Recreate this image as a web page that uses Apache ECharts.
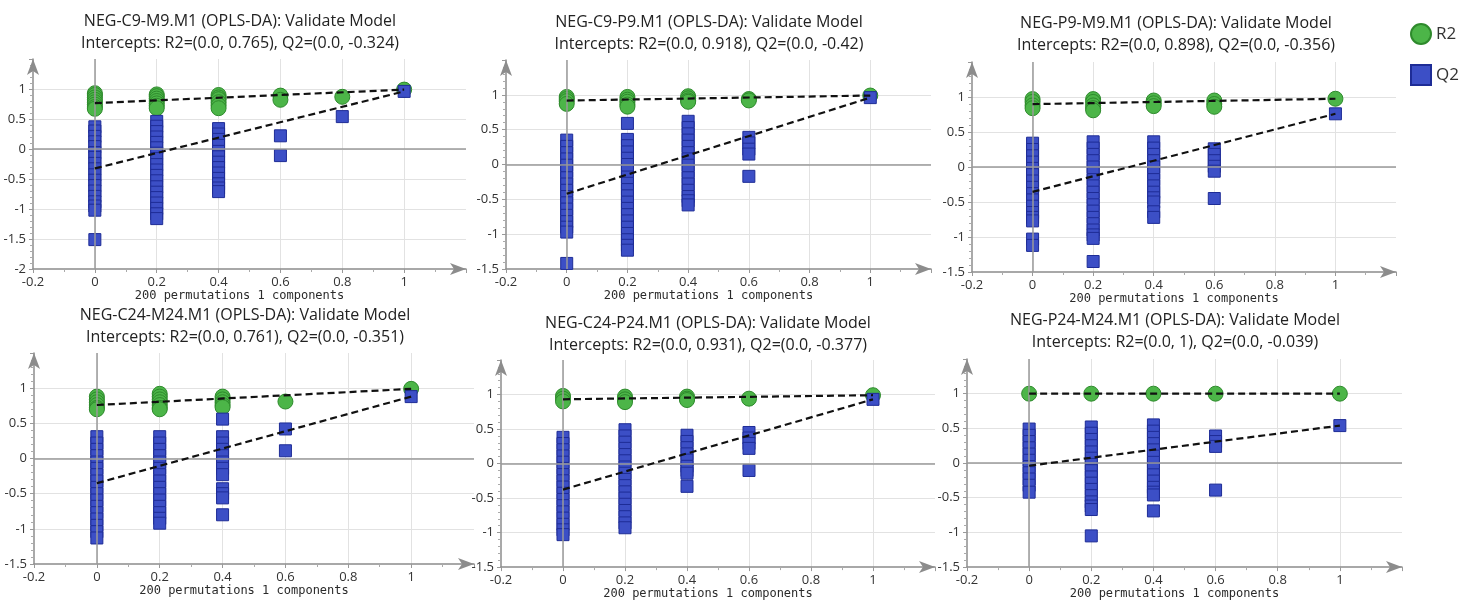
<!DOCTYPE html>
<html>
<head>
<meta charset="utf-8">
<title>OPLS-DA Validate Model</title>
<script src="https://cdn.jsdelivr.net/npm/echarts@6.0.0/dist/echarts.min.js"></script>
<style>
  html, body { margin: 0; padding: 0; background: #fff; }
  #chart { width: 1460px; height: 601px; }
</style>
</head>
<body>
<div id="chart"></div>
<script>
// permutation groups sit at these x values, the last one is the original model
const groupX = [0, 0.2, 0.4, 0.6, 0.8, 1];

const models = ['NEG-C9-M9.M1', 'NEG-C9-P9.M1', 'NEG-P9-M9.M1', 'NEG-C24-M24.M1', 'NEG-C24-P24.M1', 'NEG-P24-M24.M1'];
const r2Intercepts = [0.765, 0.918, 0.898, 0.761, 0.931, 1];
const q2Intercepts = [-0.324, -0.42, -0.356, -0.351, -0.377, -0.039];
const yMins = [-2, -1.5, -1.5, -1.5, -1.5, -1.5];

// values read per group (index follows groupX)
const r2_C9_M9 = [[0.93, 0.9, 0.86, 0.82, 0.78, 0.74, 0.7, 0.67], [0.91, 0.88, 0.84, 0.8, 0.76, 0.72, 0.68], [0.9, 0.86, 0.83, 0.78, 0.73, 0.68], [0.89, 0.82], [0.87], [0.99]];
const q2_C9_M9 = [
  [0.37, 0.3, 0.21, 0.12, 0.04, -0.06, -0.14, -0.24, -0.33, -0.43, -0.52, -0.61, -0.7, -0.79, -0.88, -0.95, -1.02, -1.51],
  [0.46, 0.38, 0.29, 0.2, 0.11, 0.02, -0.07, -0.16, -0.26, -0.35, -0.44, -0.53, -0.63, -0.72, -0.81, -0.9, -0.99, -1.08, -1.16],
  [0.34, 0.25, 0.16, 0.06, -0.04, -0.13, -0.22, -0.31, -0.4, -0.49, -0.58, -0.65, -0.71],
  [0.22, -0.11], [0.54], [0.96]
];

const r2_C9_P9 = [[0.97, 0.94, 0.91, 0.87], [0.97, 0.93, 0.9, 0.86, 0.83], [0.98, 0.95, 0.92, 0.9], [0.94, 0.92], [], [0.99]];
const q2_C9_P9 = [
  [0.35, 0.26, 0.17, 0.08, -0.01, -0.1, -0.19, -0.28, -0.37, -0.46, -0.55, -0.64, -0.73, -0.82, -0.9, -0.97, -1.42],
  [0.59, 0.36, 0.27, 0.18, 0.09, 0.0, -0.09, -0.18, -0.27, -0.36, -0.45, -0.54, -0.63, -0.72, -0.81, -0.9, -0.99, -1.08, -1.16, -1.23],
  [0.62, 0.53, 0.44, 0.35, 0.26, 0.17, 0.08, -0.01, -0.1, -0.19, -0.28, -0.37, -0.46, -0.52, -0.58],
  [0.39, 0.31, 0.22, 0.15, -0.17], [], [0.96]
];

const r2_P9_M9 = [[0.97, 0.93, 0.88, 0.84], [0.97, 0.93, 0.88, 0.84, 0.81], [0.95, 0.91, 0.87], [0.95, 0.9, 0.86], [], [0.975]];
const q2_P9_M9 = [
  [0.34, 0.25, 0.16, 0.07, -0.02, -0.11, -0.2, -0.29, -0.38, -0.47, -0.56, -0.65, -0.72, -0.77, -1.03, -1.12],
  [0.36, 0.27, 0.18, 0.09, 0.0, -0.09, -0.18, -0.27, -0.36, -0.45, -0.54, -0.63, -0.72, -0.81, -0.9, -0.97, -1.02, -1.35],
  [0.36, 0.27, 0.18, 0.09, 0.0, -0.09, -0.18, -0.27, -0.36, -0.44, -0.5, -0.64, -0.72],
  [0.26, 0.18, 0.09, 0.01, -0.06, -0.45], [], [0.76]
];

const r2_C24_M24 = [[0.88, 0.84, 0.8, 0.76, 0.72, 0.7], [0.92, 0.88, 0.84, 0.8, 0.76, 0.72, 0.7], [0.88, 0.84, 0.8, 0.76, 0.73], [0.81], [], [0.99]];
const q2_C24_M24 = [
  [0.31, 0.22, 0.13, 0.04, -0.05, -0.14, -0.23, -0.32, -0.41, -0.5, -0.59, -0.68, -0.77, -0.86, -0.95, -1.04, -1.13],
  [0.31, 0.22, 0.13, 0.04, -0.05, -0.14, -0.23, -0.32, -0.41, -0.5, -0.59, -0.68, -0.77, -0.85, -0.92],
  [0.56, 0.31, 0.22, 0.13, 0.04, -0.05, -0.14, -0.23, -0.43, -0.5, -0.56, -0.8],
  [0.42, 0.11], [], [0.88]
];

const r2_C24_P24 = [[0.98, 0.94, 0.9], [0.97, 0.93, 0.89], [0.97, 0.94, 0.92], [0.94], [], [0.99]];
const q2_C24_P24 = [
  [0.38, 0.29, 0.2, 0.11, 0.02, -0.07, -0.16, -0.25, -0.34, -0.43, -0.52, -0.61, -0.7, -0.79, -0.88, -0.96, -1.03],
  [0.49, 0.4, 0.31, 0.22, 0.13, 0.04, -0.05, -0.14, -0.23, -0.32, -0.41, -0.5, -0.59, -0.68, -0.77, -0.86, -0.93],
  [0.41, 0.32, 0.23, 0.14, 0.05, -0.04, -0.1, -0.14, -0.33],
  [0.45, 0.37, 0.29, 0.22, -0.1], [], [0.93]
];

const r2_P24_M24 = [[1], [1], [1], [1], [], [1]];
const q2_P24_M24 = [
  [0.49, 0.4, 0.31, 0.22, 0.13, 0.04, -0.05, -0.14, -0.23, -0.32, -0.42],
  [0.52, 0.43, 0.34, 0.25, 0.16, 0.07, -0.02, -0.11, -0.2, -0.29, -0.38, -0.47, -0.56, -0.62, -0.67, -1.05],
  [0.55, 0.46, 0.37, 0.28, 0.19, 0.1, 0.01, -0.08, -0.17, -0.26, -0.35, -0.42, -0.46, -0.69],
  [0.39, 0.31, 0.24, -0.39], [], [0.54]
];

const r2Sets = [r2_C9_M9, r2_C9_P9, r2_P9_M9, r2_C24_M24, r2_C24_P24, r2_P24_M24];
const q2Sets = [q2_C9_M9, q2_C9_P9, q2_P9_M9, q2_C24_M24, q2_C24_P24, q2_P24_M24];

// page layout of the six panels (plot box spans x -0.2..1.2, y min..1.5)
const layout = [
  { left: 33,  top: 59,  width: 433, height: 210, tx: 240,  ty: 10 },
  { left: 506, top: 60,  width: 425, height: 209, tx: 709,  ty: 11 },
  { left: 972, top: 62,  width: 424, height: 210, tx: 1176, ty: 12 },
  { left: 34,  top: 353, width: 440, height: 211, tx: 245,  ty: 304 },
  { left: 501, top: 360, width: 434, height: 208, tx: 708,  ty: 312 },
  { left: 967, top: 359, width: 435, height: 210, tx: 1175, ty: 309 }
];

const GREEN = '#4cb548', GREEN_DARK = '#2e8a2c';
const BLUE = '#3c4fc6', BLUE_DARK = '#1e2c96';
const FONT = '"Open Sans", "Noto Sans", sans-serif';

function toPoints(groups) {
  const pts = [];
  groups.forEach((vals, i) => vals.forEach(v => pts.push([groupX[i], v])));
  return pts;
}

const chart = echarts.init(document.getElementById('chart'));

const grids = [], xAxes = [], yAxes = [], titles = [], series = [];

layout.forEach((p, i) => {
  grids.push({ left: p.left, top: p.top, width: p.width, height: p.height, containLabel: false });

  titles.push({
    text: models[i] + ' (OPLS-DA): Validate Model\nIntercepts: R2=(0.0, ' + r2Intercepts[i] + '), Q2=(0.0, ' + q2Intercepts[i] + ')',
    left: p.tx, top: p.ty, textAlign: 'center', padding: 0,
    textStyle: { fontFamily: FONT, fontSize: 16, fontWeight: 'normal', color: '#222', lineHeight: 22 }
  });

  xAxes.push({
    gridIndex: i, type: 'value', min: -0.2, max: 1.2, interval: 0.2,
    name: '200 permutations 1 components', nameLocation: 'middle', nameGap: 20,
    nameTextStyle: { fontFamily: '"DejaVu Sans Mono", monospace', fontSize: 12, color: '#2a2a2a', padding: [0, 20, 0, 0] },
    axisLine: { show: true, onZero: false, symbol: ['none', 'arrow'], symbolSize: [9, 16], lineStyle: { color: '#8c8c8c', width: 1.5 } },
    axisTick: { show: true, length: 4, lineStyle: { color: '#999' } },
    minorTick: { show: true, splitNumber: 2, length: 3, lineStyle: { color: '#aaa' } },
    axisLabel: { showMaxLabel: false, fontFamily: FONT, fontSize: 13, color: '#333', margin: 7 },
    splitLine: { show: true, showMinLine: false, showMaxLine: false, lineStyle: { color: '#e2e2e2', width: 1 } }
  });

  yAxes.push({
    gridIndex: i, type: 'value', min: yMins[i], max: 1.5, interval: 0.5,
    axisLine: { show: true, onZero: false, symbol: ['none', 'arrow'], symbolSize: [9, 16], lineStyle: { color: '#8c8c8c', width: 1.5 } },
    axisTick: { show: true, length: 4, lineStyle: { color: '#999' } },
    minorTick: { show: true, splitNumber: 5, length: 3, lineStyle: { color: '#aaa' } },
    axisLabel: { showMaxLabel: false, fontFamily: FONT, fontSize: 13, color: '#333', margin: 7 },
    splitLine: { show: true, showMinLine: false, showMaxLine: false, lineStyle: { color: '#e2e2e2', width: 1 } }
  });

  // zero reference lines
  series.push({
    type: 'scatter', xAxisIndex: i, yAxisIndex: i, data: [[0, 0]], symbolSize: 0, silent: true, z: 1,
    markLine: {
      silent: true, symbol: ['none', 'none'], label: { show: false },
      lineStyle: { color: '#9a9a9a', width: 1.5, type: 'solid' },
      data: [{ yAxis: 0 }, { xAxis: 0 }]
    }
  });

  const r2 = r2Sets[i], q2 = q2Sets[i];
  series.push({
    name: 'R2', type: 'scatter', xAxisIndex: i, yAxisIndex: i, z: 3,
    symbol: 'circle', symbolSize: 15,
    itemStyle: { color: GREEN, borderColor: GREEN_DARK, borderWidth: 1, opacity: 1 },
    data: toPoints(r2)
  });
  series.push({
    name: 'Q2', type: 'scatter', xAxisIndex: i, yAxisIndex: i, z: 4,
    symbol: 'rect', symbolSize: 12,
    itemStyle: { color: BLUE, borderColor: BLUE_DARK, borderWidth: 1, opacity: 1 },
    data: toPoints(q2)
  });

  // regression lines: intercept at 0 to the original model at 1
  const r2Orig = r2[r2.length - 1][0], q2Orig = q2[q2.length - 1][0];
  [[r2Intercepts[i], r2Orig], [q2Intercepts[i], q2Orig]].forEach(ends => {
    series.push({
      type: 'line', xAxisIndex: i, yAxisIndex: i, z: 5, silent: true,
      symbol: 'none', data: [[0, ends[0]], [1, ends[1]]],
      lineStyle: { color: '#111', width: 2.2, type: [7, 4] }
    });
  });
});

chart.setOption({
  backgroundColor: '#fff',
  animation: false,
  title: titles,
  legend: {
    orient: 'vertical', left: 1410, top: 23, padding: 0, itemWidth: 20, itemHeight: 20, itemGap: 19,
    textStyle: { fontFamily: FONT, fontSize: 17, color: '#333' },
    data: [{ name: 'R2', icon: 'circle' }, { name: 'Q2', icon: 'rect' }]
  },
  grid: grids,
  xAxis: xAxes,
  yAxis: yAxes,
  series: series
});

window.onresize = () => chart.resize();
</script>
</body>
</html>
